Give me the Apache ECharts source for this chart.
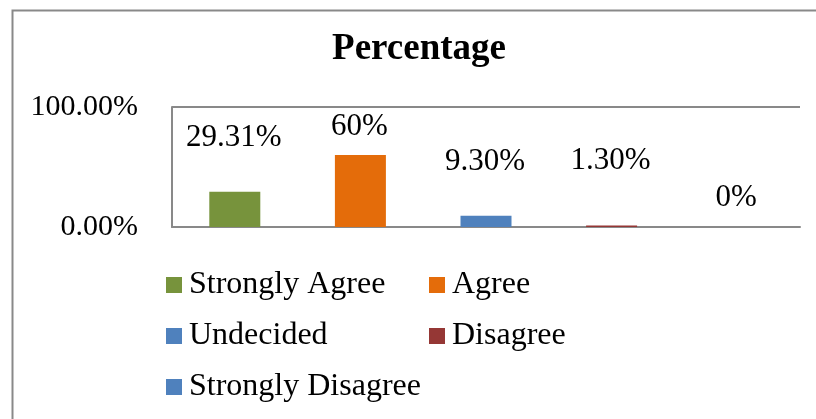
<!DOCTYPE html>
<html>
<head>
<meta charset="utf-8">
<style>
    html, body { margin: 0; padding: 0; background: #fff; }
    #chart { width: 816px; height: 419px; }
</style>
<script src="https://cdn.jsdelivr.net/npm/echarts@6/dist/echarts.min.js"></script>
</head>
<body>
<div id="chart"></div>
<script>
    // data
    var categories = ['Strongly Agree', 'Agree', 'Undecided', 'Disagree', 'Strongly Disagree'];
    var values = [29.31, 60, 9.30, 1.30, 0];
    var valueLabels = ['29.31%', '60%', '9.30%', '1.30%', '0%'];
    var yTicks = ['0.00%', '100.00%'];

    var colors = ['#77933c', '#e46c0a', '#4f81bd', '#953735', '#4f81bd'];
    var labelLift = [38, 13, 38, 49, 14];   // how far each label sits above its bar
    var serif = "'Liberation Serif', 'Times New Roman', serif";

    var chart = echarts.init(document.getElementById('chart'));

    var series = [];
    categories.forEach(function (name, i) {
        var d = categories.map(function (c, j) { return j === i ? values[i] : null; });
        series.push({
            name: name,
            type: 'bar',
            data: d,
            barWidth: 51,
            barGap: '-100%',
            itemStyle: { color: colors[i] },
            label: {
                show: true,
                position: 'top',
                distance: 0,
                offset: [-1, -labelLift[i]],
                formatter: function () { return valueLabels[i]; },
                color: '#000',
                fontFamily: serif,
                fontSize: 31
            }
        });
    });

    // legend in two columns like the original
    var legendSpots = [[166, 269], [429, 269], [166, 320], [429, 320], [166, 371]];
    var legends = categories.map(function (name, i) {
        return {
            data: [name],
            left: legendSpots[i][0],
            top: legendSpots[i][1],
            padding: 0,
            itemWidth: 16,
            itemHeight: 16,
            icon: 'rect',
            selectedMode: false,
            textStyle: { fontFamily: serif, fontSize: 32, color: '#000', lineHeight: 30, padding: [0, 0, 0, 2] }
        };
    });

    var option = {
        animation: false,
        title: {
            text: 'Percentage',
            left: 419,
            top: 31,
            textAlign: 'center',
            padding: 0,
            textStyle: { fontFamily: serif, fontSize: 37, fontWeight: 'bold', color: '#000' }
        },
        graphic: [{
            type: 'rect',
            left: 10,
            top: 8,
            shape: { width: 830, height: 430 },
            style: { fill: 'none', stroke: '#898989', lineWidth: 2 }
        }],
        legend: legends,
        grid: { left: 172, right: 16, top: 107, height: 120 },
        xAxis: {
            type: 'category',
            data: categories,
            axisLine: { lineStyle: { color: '#898989', width: 2 } },
            axisTick: { show: false },
            axisLabel: { show: false }
        },
        yAxis: {
            type: 'value',
            min: 0,
            max: 100,
            interval: 100,
            axisLine: { show: true, lineStyle: { color: '#898989', width: 2 } },
            axisTick: { show: false },
            splitLine: { lineStyle: { color: '#898989', width: 2 } },
            axisLabel: {
                margin: 34,
                fontFamily: serif,
                fontSize: 30,
                color: '#000',
                formatter: function (v) { return v === 0 ? yTicks[0] : yTicks[1]; }
            }
        },
        series: series
    };

    chart.setOption(option);
</script>
</body>
</html>
